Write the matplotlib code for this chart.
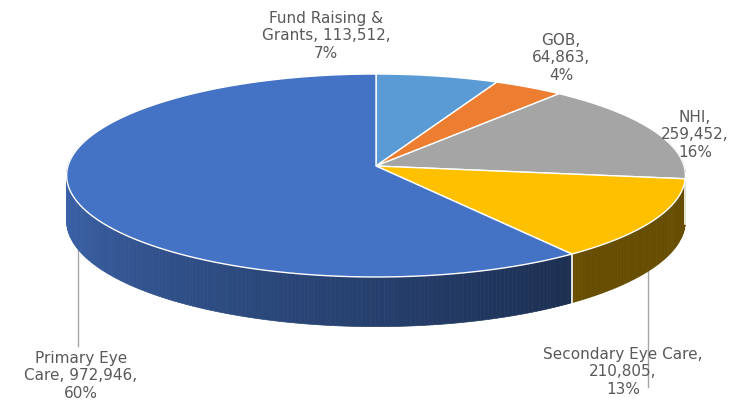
import numpy as np
import matplotlib.pyplot as plt
from matplotlib.patches import Polygon
from matplotlib.colors import to_rgb

# Data
names = ['Fund Raising &\nGrants', 'GOB', 'NHI', 'Secondary Eye Care', 'Primary Eye\nCare']
values = [113512, 64863, 259452, 210805, 972946]
colors = ['#5B9BD5', '#ED7D31', '#A5A5A5', '#FFC000', '#4472C4']
seps = [', ', ',\n', ',\n', ',\n', ', ']

# label placement (pixel coordinates, y down)
label_xy = [(326, 36), (561, 58), (695, 135), (623, 372), (81, 376)]
leader = {3: (123, 388), 4: (249, 347)}   # slice index -> (rim angle, line end y)

# pie geometry in pixels, with a bit of perspective
CX, CY = 376, 167
R, B, K = 308, 100.6, 0.0936
DEPTH = 45

def proj(theta, drop=0.0):
    t = np.radians(theta)
    w = 1 + K * np.cos(t)
    return CX + R * np.sin(t) / w, CY - B * np.cos(t) / w + drop / w

def shade(i, theta):
    # darker on the right, lighter towards the left
    f = 0.40 + 0.48 * np.clip((theta - 140) / 125.0, 0, 1)
    return tuple(np.array(to_rgb(colors[i])) * f)

fig = plt.figure(figsize=(7.35, 4.02), dpi=100)
ax = fig.add_axes([0, 0, 1, 1])
ax.set_xlim(0, 735)
ax.set_ylim(402, 0)
ax.axis('off')

total = sum(values)
bounds = np.concatenate([[0], np.cumsum(values) / total * 360])

# side wall, drawn back to front
facets = []
for i in range(len(values)):
    a, b = bounds[i], bounds[i + 1]
    n = max(int((b - a) / 0.75), 2)
    th = np.linspace(a, b, n + 1)
    for t0, t1 in zip(th[:-1], th[1:]):
        tm = 0.5 * (t0 + t1)
        if np.cos(np.radians(tm)) > 0.25:
            continue
        facets.append((np.cos(np.radians(tm)), i, t0, t1, tm))
facets.sort(key=lambda f: -f[0])
for _, i, t0, t1, tm in facets:
    p0, p1 = proj(t0), proj(t1)
    q1, q0 = proj(t1, DEPTH), proj(t0, DEPTH)
    c = shade(i, tm)
    ax.add_patch(Polygon([p0, p1, q1, q0], closed=True, facecolor=c,
                         edgecolor=c, lw=0.5))

# white seams on the side where slices meet
for t in bounds:
    if np.cos(np.radians(t)) < 0:
        x0, y0 = proj(t)
        x1, y1 = proj(t, DEPTH)
        ax.plot([x0, x1], [y0, y1], color='white', lw=1.2)

# top faces
for i in range(len(values)):
    th = np.linspace(bounds[i], bounds[i + 1], 200)
    xs, ys = proj(th)
    pts = [(CX, CY)] + list(zip(xs, ys))
    ax.add_patch(Polygon(pts, closed=True, facecolor=colors[i],
                         edgecolor='white', lw=1.0, joinstyle='round'))

# labels
for i, v in enumerate(values):
    pct = round(v / total * 100)
    txt = names[i] + seps[i] + f'{v:,},\n{pct}%'
    x, y = label_xy[i]
    ax.text(x, y, txt, ha='center', va='center', fontsize=11,
            color='#595959', family='DejaVu Sans', linespacing=1.2)

for i, (ang, yend) in leader.items():
    x0, y0 = proj(ang, DEPTH)
    ax.plot([x0, x0], [y0, yend], color='#A6A6A6', lw=1, zorder=0)

fig.savefig('out.png', dpi=100)
